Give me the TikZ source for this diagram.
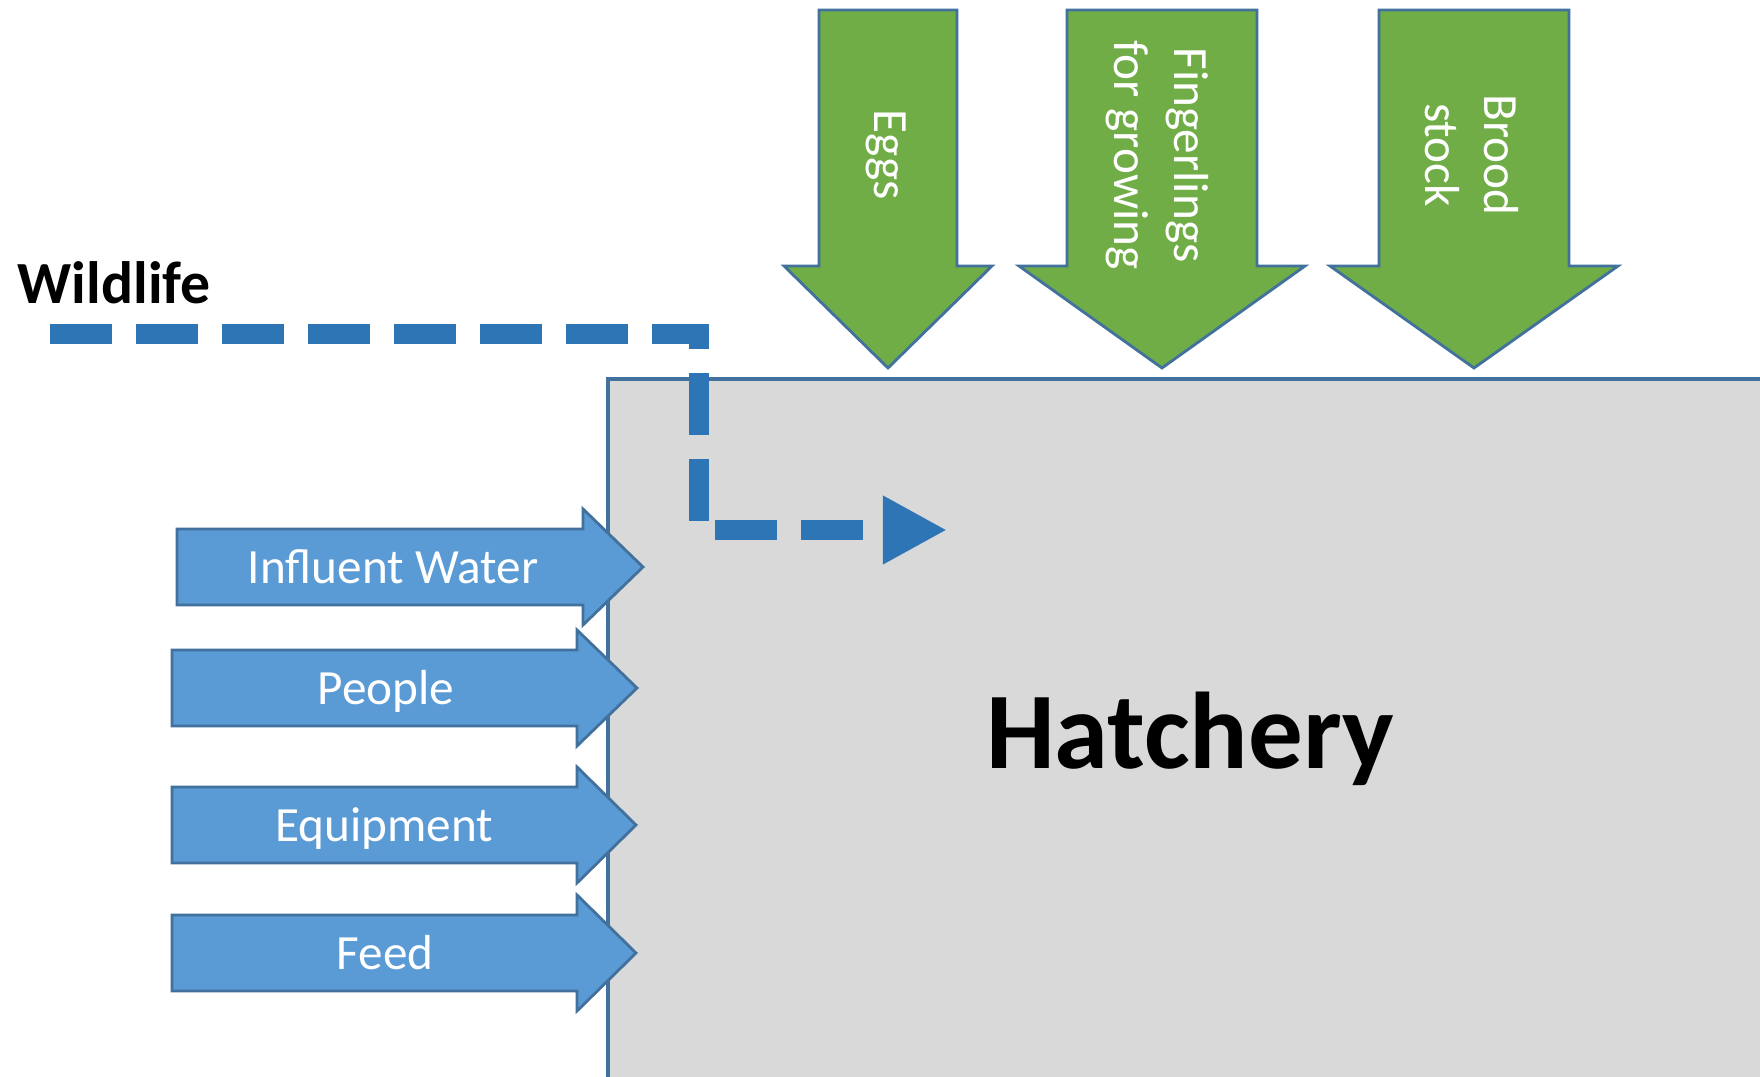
\documentclass[tikz,border=0pt]{standalone}
\usepackage{fontspec}
\setmainfont{Carlito}
\usetikzlibrary{arrows.meta}

\definecolor{hatchgray}{HTML}{D9D9D9}
\definecolor{edgeblue}{HTML}{41719C}
\definecolor{inblue}{HTML}{5B9BD5}
\definecolor{wildblue}{HTML}{2E75B6}
\definecolor{stockgreen}{HTML}{70AD47}

\begin{document}
\begin{tikzpicture}[x=0.01cm,y=-0.01cm,
  hatchbox/.style={fill=hatchgray,draw=edgeblue,line width=1pt},
  inarrow/.style={fill=inblue,draw=edgeblue,line width=0.8pt,line join=miter},
  stockarrow/.style={fill=stockgreen,draw=edgeblue,line width=0.8pt,line join=miter},
  inlabel/.style={text=white,font=\fontsize{14}{17}\selectfont,anchor=base},
  stocklabel/.style={text=white,font=\fontsize{14}{17}\selectfont,rotate=-90,align=center},
  wildlink/.style={wildblue,line width=0.2cm,dash pattern=on 0.62cm off 0.24cm,line join=miter,
    -{Triangle[length=0.64cm,width=0.64cm]}}]

  \clip (0,0) rectangle (1760,1077);
  \fill[white] (0,0) rectangle (1760,1077);

  \draw[hatchbox] (608,379) rectangle (1780,1100);
  \draw (1190,769) node (hatch) [anchor=base,font=\fontsize{31}{36}\selectfont\bfseries] {Hatchery};

  \draw[stockarrow] (819,10) -- (957,10) -- (957,266) -- (992,266) -- (888,368) -- (784,266) -- (819,266) -- cycle;
  \draw[stockarrow] (1067,10) -- (1257,10) -- (1257,266) -- (1305,266) -- (1162,368) -- (1019,266) -- (1067,266) -- cycle;
  \draw[stockarrow] (1379,10) -- (1569,10) -- (1569,266) -- (1618,266) -- (1474,368) -- (1330,266) -- (1379,266) -- cycle;

  \draw (886,155) node (eggs) [stocklabel] {Eggs};
  \draw (1157,155) node (finger) [stocklabel] {Fingerlings\\for growing};
  \draw (1472,155) node (brood) [stocklabel] {Brood\\stock};

  \draw[inarrow] (177,529) -- (583,529) -- (583,509) -- (643,567) -- (583,625) -- (583,605) -- (177,605) -- cycle;
  \draw[inarrow] (172,650) -- (577,650) -- (577,630) -- (637,688) -- (577,746) -- (577,726) -- (172,726) -- cycle;
  \draw[inarrow] (172,787) -- (577,787) -- (577,767) -- (636,825) -- (577,883) -- (577,863) -- (172,863) -- cycle;
  \draw[inarrow] (172,915) -- (577,915) -- (577,895) -- (636,953) -- (577,1011) -- (577,991) -- (172,991) -- cycle;

  \draw (393,584) node (water) [inlabel] {Influent Water};
  \draw (386,705) node (people) [inlabel] {People};
  \draw (384,842) node (equip) [inlabel] {Equipment};
  \draw (385,970) node (feed) [inlabel] {Feed};

  \draw (17,304) node (wild) [anchor=base west,inner sep=0pt,font=\fontsize{17}{20}\selectfont\bfseries] {Wildlife};
  \coordinate (wildstart) at (50,334);
  \coordinate (wildbend) at (699,334);
  \coordinate (wildtip) at (947,530);
  \draw[wildlink] (wildstart) -- (wildbend) |- (wildtip);

\end{tikzpicture}
\end{document}
